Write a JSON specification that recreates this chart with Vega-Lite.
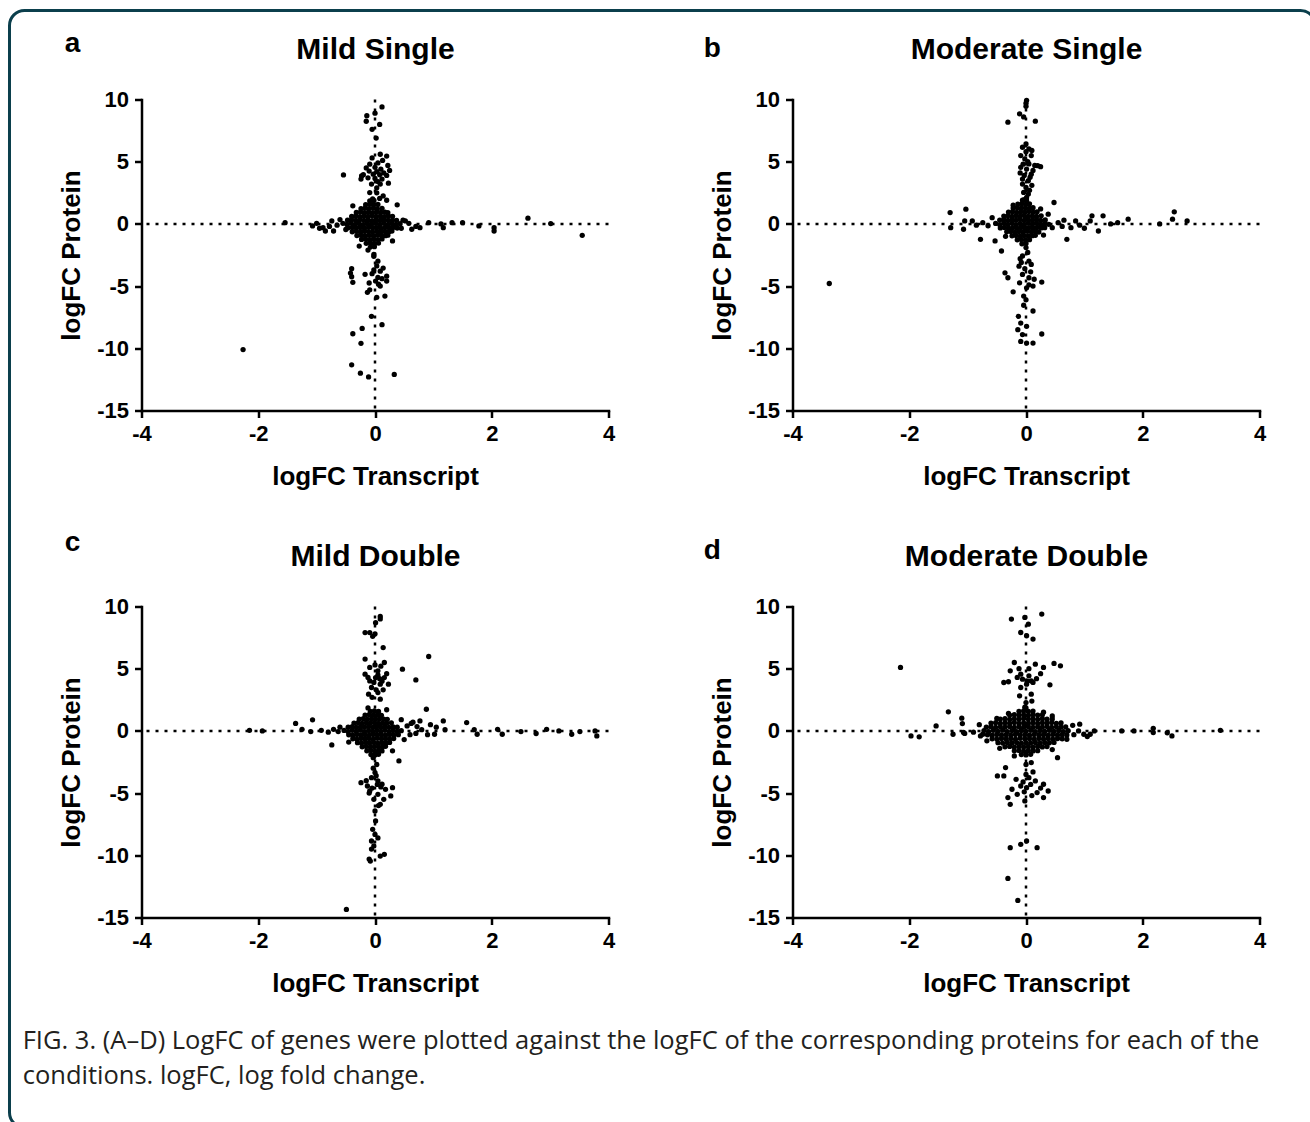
{
"$schema": "https://vega.github.io/schema/vega-lite/v6.json",
"background": "white",
"padding": {"left": 7.5, "top": 8.5, "right": 0, "bottom": 0},
"datasets": {
"a": [
{"x":-0.55,"y":0.05},{"x":-0.48,"y":-0.04},{"x":-0.41,"y":0.06},{"x":-0.34,"y":-0.05},{"x":-0.27,"y":0.03},{"x":-0.2,"y":-0.06},{"x":-0.13,"y":0.04},{"x":-0.06,"y":-0.02},{"x":0.01,"y":0.05},{"x":0.08,"y":-0.04},{"x":0.15,"y":0.06},{"x":0.22,"y":-0.05},{"x":0.29,"y":0.03},{"x":0.36,"y":-0.03},{"x":0.43,"y":0.02},
{"x":-0.47,"y":0.3},{"x":-0.4,"y":0.33},{"x":-0.33,"y":0.28},{"x":-0.26,"y":0.34},{"x":-0.19,"y":0.29},{"x":-0.12,"y":0.32},{"x":-0.05,"y":0.27},{"x":0.02,"y":0.33},{"x":0.09,"y":0.3},{"x":0.16,"y":0.35},{"x":0.23,"y":0.28},{"x":0.3,"y":0.31},{"x":0.37,"y":0.29},
{"x":-0.46,"y":-0.31},{"x":-0.39,"y":-0.28},{"x":-0.32,"y":-0.33},{"x":-0.25,"y":-0.29},{"x":-0.18,"y":-0.34},{"x":-0.11,"y":-0.27},{"x":-0.04,"y":-0.32},{"x":0.03,"y":-0.3},{"x":0.1,"y":-0.35},{"x":0.17,"y":-0.28},{"x":0.24,"y":-0.31},{"x":0.31,"y":-0.29},{"x":0.38,"y":-0.33},
{"x":-0.4,"y":0.6},{"x":-0.33,"y":0.64},{"x":-0.26,"y":0.59},{"x":-0.19,"y":0.63},{"x":-0.12,"y":0.61},{"x":-0.05,"y":0.66},{"x":0.02,"y":0.6},{"x":0.09,"y":0.63},{"x":0.16,"y":0.58},{"x":0.23,"y":0.64},{"x":0.3,"y":0.61},
{"x":-0.39,"y":-0.63},{"x":-0.32,"y":-0.6},{"x":-0.25,"y":-0.65},{"x":-0.18,"y":-0.59},{"x":-0.11,"y":-0.62},{"x":-0.04,"y":-0.66},{"x":0.03,"y":-0.6},{"x":0.1,"y":-0.64},{"x":0.17,"y":-0.61},{"x":0.24,"y":-0.63},{"x":0.29,"y":-0.58},
{"x":-0.32,"y":0.92},{"x":-0.25,"y":0.95},{"x":-0.18,"y":0.9},{"x":-0.11,"y":0.94},{"x":-0.04,"y":0.91},{"x":0.03,"y":0.96},{"x":0.1,"y":0.92},{"x":0.17,"y":0.94},{"x":0.22,"y":0.9},
{"x":-0.31,"y":-0.94},{"x":-0.24,"y":-0.91},{"x":-0.17,"y":-0.95},{"x":-0.1,"y":-0.92},{"x":-0.03,"y":-0.96},{"x":0.04,"y":-0.9},{"x":0.11,"y":-0.93},{"x":0.18,"y":-0.95},{"x":0.22,"y":-0.91},
{"x":-0.24,"y":1.22},{"x":-0.17,"y":1.26},{"x":-0.1,"y":1.23},{"x":-0.03,"y":1.27},{"x":0.04,"y":1.21},{"x":0.12,"y":1.25},
{"x":-0.23,"y":-1.25},{"x":-0.16,"y":-1.22},{"x":-0.09,"y":-1.27},{"x":-0.02,"y":-1.23},{"x":0.05,"y":-1.26},{"x":0.12,"y":-1.21},
{"x":-0.16,"y":1.54},{"x":-0.09,"y":1.57},{"x":-0.02,"y":1.53},{"x":0.05,"y":1.56},
{"x":-0.15,"y":-1.56},{"x":-0.08,"y":-1.53},{"x":-0.01,"y":-1.57},{"x":0.06,"y":-1.54},
{"x":-0.09,"y":1.84},{"x":-0.02,"y":1.87},{"x":-0.08,"y":-1.86},{"x":-0.01,"y":-1.83},
{"x":-0.38,"y":1.45},{"x":0.38,"y":1.53},{"x":0.3,"y":-1.37},{"x":-0.27,"y":-1.78},{"x":-0.6,"y":0.35},{"x":0.48,"y":0.3},{"x":-0.5,"y":-0.45},{"x":0.45,"y":-0.35},{"x":0.08,"y":2.05},{"x":-0.12,"y":-2.1},{"x":0.2,"y":1.9},{"x":-0.02,"y":-2.45},
{"x":0.12,"y":9.4},{"x":0.0,"y":8.9},{"x":-0.14,"y":8.7},{"x":-0.15,"y":8.25},{"x":0.08,"y":8.0},{"x":-0.05,"y":7.6},{"x":0.02,"y":6.9},
{"x":0.09,"y":5.6},{"x":0.2,"y":5.45},{"x":-0.05,"y":5.3},{"x":0.13,"y":5.1},{"x":-0.09,"y":4.8},{"x":0.05,"y":4.9},{"x":0.22,"y":4.7},{"x":-0.15,"y":4.5},{"x":0.0,"y":4.55},{"x":0.1,"y":4.4},{"x":0.25,"y":4.3},{"x":-0.1,"y":4.25},{"x":0.03,"y":4.2},{"x":0.15,"y":4.1},{"x":-0.03,"y":4.0},{"x":0.08,"y":3.95},{"x":0.2,"y":3.9},{"x":-0.2,"y":3.95},{"x":-0.23,"y":3.85},{"x":-0.24,"y":3.6},{"x":-0.12,"y":3.7},{"x":0.0,"y":3.65},{"x":0.12,"y":3.6},{"x":0.05,"y":3.4},{"x":-0.06,"y":3.2},{"x":0.09,"y":3.2},{"x":0.23,"y":3.27},{"x":-0.09,"y":2.52},{"x":0.03,"y":2.5},{"x":0.14,"y":2.25},{"x":-0.54,"y":3.94},{"x":0.03,"y":2.9},{"x":-0.04,"y":2.0},
{"x":-0.4,"y":-3.6},{"x":-0.42,"y":-3.95},{"x":-0.38,"y":-4.7},{"x":-0.4,"y":-4.25},{"x":-0.17,"y":-4.05},{"x":0.03,"y":-3.38},{"x":0.09,"y":-3.8},{"x":0.2,"y":-4.2},{"x":0.01,"y":-4.6},{"x":0.09,"y":-5.0},{"x":-0.09,"y":-5.3},{"x":0.03,"y":-5.9},{"x":0.17,"y":-5.8},{"x":-0.13,"y":-5.5},{"x":0.12,"y":-4.4},{"x":-0.05,"y":-4.0},{"x":0.05,"y":-4.3},{"x":-0.02,"y":-3.7},{"x":0.14,"y":-3.55},{"x":0.2,"y":-4.6},{"x":-0.1,"y":-4.75},{"x":0.06,"y":-4.85},{"x":-0.02,"y":-2.6},{"x":0.05,"y":-3.0},
{"x":-0.06,"y":-7.43},{"x":0.12,"y":-8.1},{"x":-0.22,"y":-8.4},{"x":-0.38,"y":-8.83},{"x":-0.24,"y":-9.6},{"x":-0.4,"y":-11.33},{"x":-0.25,"y":-12.0},{"x":-0.11,"y":-12.3},{"x":0.33,"y":-12.1},{"x":-2.26,"y":-10.1},
{"x":-1.54,"y":0.1},{"x":-1.07,"y":-0.16},{"x":-0.89,"y":-0.3},{"x":-0.85,"y":-0.57},{"x":-0.74,"y":0.24},{"x":-0.71,"y":-0.57},{"x":-0.65,"y":-0.1},{"x":-0.78,"y":-0.2},{"x":0.52,"y":0.24},{"x":0.63,"y":-0.43},{"x":0.77,"y":-0.3},{"x":0.92,"y":0.1},{"x":1.13,"y":0.0},{"x":1.17,"y":-0.3},{"x":1.32,"y":0.1},{"x":1.5,"y":0.1},{"x":1.78,"y":-0.16},{"x":2.04,"y":-0.3},{"x":2.04,"y":-0.57},{"x":2.62,"y":0.46},{"x":3.01,"y":0.03},{"x":3.55,"y":-0.92},{"x":0.58,"y":0.05},{"x":0.7,"y":-0.2},{"x":-1.0,"y":0.05},{"x":-0.95,"y":-0.35}
],
"b": [
{"x":-0.52,"y":0.04},{"x":-0.45,"y":-0.05},{"x":-0.38,"y":0.06},{"x":-0.31,"y":-0.03},{"x":-0.24,"y":0.05},{"x":-0.17,"y":-0.06},{"x":-0.1,"y":0.03},{"x":-0.03,"y":-0.04},{"x":0.04,"y":0.06},{"x":0.11,"y":-0.02},{"x":0.18,"y":0.05},{"x":0.25,"y":-0.05},{"x":0.32,"y":0.02},{"x":0.39,"y":-0.03},
{"x":-0.45,"y":0.31},{"x":-0.38,"y":0.34},{"x":-0.31,"y":0.29},{"x":-0.24,"y":0.33},{"x":-0.17,"y":0.3},{"x":-0.1,"y":0.35},{"x":-0.03,"y":0.29},{"x":0.04,"y":0.33},{"x":0.11,"y":0.3},{"x":0.18,"y":0.34},{"x":0.25,"y":0.28},{"x":0.33,"y":0.32},
{"x":-0.44,"y":-0.32},{"x":-0.37,"y":-0.29},{"x":-0.3,"y":-0.34},{"x":-0.23,"y":-0.3},{"x":-0.16,"y":-0.33},{"x":-0.09,"y":-0.28},{"x":-0.02,"y":-0.34},{"x":0.05,"y":-0.3},{"x":0.12,"y":-0.33},{"x":0.19,"y":-0.29},{"x":0.26,"y":-0.32},{"x":0.32,"y":-0.3},
{"x":-0.38,"y":0.63},{"x":-0.31,"y":0.66},{"x":-0.24,"y":0.61},{"x":-0.17,"y":0.65},{"x":-0.1,"y":0.62},{"x":-0.03,"y":0.67},{"x":0.04,"y":0.61},{"x":0.11,"y":0.64},{"x":0.18,"y":0.6},{"x":0.26,"y":0.65},
{"x":-0.33,"y":-0.64},{"x":-0.26,"y":-0.61},{"x":-0.19,"y":-0.66},{"x":-0.12,"y":-0.62},{"x":-0.05,"y":-0.65},{"x":0.02,"y":-0.6},{"x":0.09,"y":-0.64},{"x":0.16,"y":-0.62},{"x":0.22,"y":-0.66},
{"x":-0.3,"y":0.95},{"x":-0.23,"y":0.98},{"x":-0.16,"y":0.93},{"x":-0.09,"y":0.97},{"x":-0.02,"y":0.94},{"x":0.05,"y":0.99},{"x":0.12,"y":0.95},{"x":0.19,"y":0.97},
{"x":-0.24,"y":-0.96},{"x":-0.17,"y":-0.93},{"x":-0.1,"y":-0.98},{"x":-0.03,"y":-0.94},{"x":0.04,"y":-0.97},{"x":0.11,"y":-0.95},{"x":0.16,"y":-0.92},
{"x":-0.22,"y":1.27},{"x":-0.15,"y":1.3},{"x":-0.08,"y":1.26},{"x":-0.01,"y":1.29},{"x":0.06,"y":1.25},{"x":0.12,"y":1.3},
{"x":-0.15,"y":-1.28},{"x":-0.08,"y":-1.25},{"x":-0.01,"y":-1.3},{"x":0.06,"y":-1.27},
{"x":-0.14,"y":1.59},{"x":-0.07,"y":1.62},{"x":0.0,"y":1.58},{"x":0.06,"y":1.61},
{"x":-0.07,"y":-1.6},{"x":0.0,"y":-1.57},{"x":-0.06,"y":1.9},{"x":0.01,"y":1.88},
{"x":0.01,"y":2.13},{"x":-0.04,"y":2.53},{"x":0.04,"y":2.4},{"x":0.0,"y":2.93},{"x":-0.06,"y":3.2},{"x":0.04,"y":3.47},{"x":-0.06,"y":3.6},{"x":0.09,"y":4.0},{"x":0.01,"y":4.41},{"x":-0.09,"y":4.55},{"x":0.2,"y":4.68},{"x":0.05,"y":4.82},{"x":-0.02,"y":5.22},{"x":0.09,"y":5.49},{"x":-0.09,"y":5.49},{"x":0.05,"y":6.03},{"x":-0.06,"y":6.16},{"x":0.0,"y":6.43},{"x":0.12,"y":4.3},{"x":0.15,"y":4.7},{"x":-0.03,"y":3.9},{"x":0.07,"y":3.75},{"x":-0.1,"y":4.1},{"x":0.03,"y":5.0},{"x":0.0,"y":5.8},{"x":0.06,"y":2.7},{"x":-0.03,"y":1.95},{"x":0.1,"y":3.1},{"x":0.25,"y":4.6},{"x":0.1,"y":5.9},{"x":-0.05,"y":4.8},
{"x":0.01,"y":9.93},{"x":0.0,"y":9.45},{"x":-0.11,"y":8.85},{"x":-0.04,"y":8.6},{"x":-0.31,"y":8.18},{"x":0.16,"y":8.26},{"x":0.0,"y":9.7},
{"x":0.48,"y":1.72},{"x":0.38,"y":0.78},{"x":-0.53,"y":-1.37},{"x":-0.42,"y":-2.18},{"x":0.45,"y":-0.3},{"x":-0.58,"y":0.5},{"x":-0.22,"y":1.5},{"x":0.25,"y":1.2},{"x":0.3,"y":-0.9},{"x":-0.35,"y":-1.0},
{"x":-1.3,"y":0.91},{"x":-1.29,"y":-0.3},{"x":-1.03,"y":1.18},{"x":-1.05,"y":0.24},{"x":-1.07,"y":-0.43},{"x":-0.92,"y":0.24},{"x":-0.78,"y":-1.24},{"x":-0.74,"y":0.1},{"x":-0.65,"y":-0.15},{"x":-0.85,"y":-0.1},{"x":0.55,"y":0.1},{"x":0.62,"y":-0.2},{"x":0.7,"y":-1.24},{"x":0.77,"y":-0.3},{"x":0.85,"y":0.24},{"x":1.1,"y":0.24},{"x":1.13,"y":0.65},{"x":1.24,"y":-0.57},{"x":1.32,"y":0.65},{"x":1.45,"y":0.0},{"x":1.57,"y":0.1},{"x":1.75,"y":0.38},{"x":2.29,"y":0.0},{"x":2.54,"y":0.97},{"x":2.51,"y":0.38},{"x":2.76,"y":0.24},{"x":-3.37,"y":-4.79},{"x":0.65,"y":0.3},{"x":0.92,"y":-0.1},{"x":1.0,"y":-0.35},
{"x":0.0,"y":-1.9},{"x":-0.06,"y":-2.58},{"x":0.05,"y":-2.99},{"x":-0.08,"y":-3.1},{"x":0.09,"y":-3.26},{"x":-0.02,"y":-3.6},{"x":-0.06,"y":-4.06},{"x":0.05,"y":-4.33},{"x":0.14,"y":-4.45},{"x":-0.11,"y":-4.74},{"x":0.27,"y":-4.68},{"x":-0.36,"y":-3.93},{"x":-0.31,"y":-4.33},{"x":-0.22,"y":-5.46},{"x":0.01,"y":-5.14},{"x":0.08,"y":-3.85},{"x":-0.12,"y":-3.4},{"x":0.12,"y":-5.0},{"x":-0.04,"y":-5.8},{"x":0.03,"y":-2.3},{"x":-0.04,"y":-6.54},{"x":0.12,"y":-7.0},{"x":-0.13,"y":-7.43},{"x":-0.09,"y":-7.97},{"x":-0.14,"y":-8.5},{"x":0.01,"y":-8.23},{"x":-0.06,"y":-8.9},{"x":0.27,"y":-8.85},{"x":-0.09,"y":-9.45},{"x":0.01,"y":-9.58},{"x":0.12,"y":-9.58},{"x":0.0,"y":-6.1},{"x":0.05,"y":-4.9},{"x":-0.1,"y":-2.8}
],
"c": [
{"x":-0.53,"y":0.04},{"x":-0.46,"y":-0.05},{"x":-0.39,"y":0.05},{"x":-0.32,"y":-0.03},{"x":-0.25,"y":0.06},{"x":-0.18,"y":-0.05},{"x":-0.11,"y":0.03},{"x":-0.04,"y":-0.06},{"x":0.03,"y":0.04},{"x":0.1,"y":-0.03},{"x":0.17,"y":0.05},{"x":0.24,"y":-0.05},{"x":0.31,"y":0.03},{"x":0.38,"y":-0.04},{"x":0.45,"y":0.02},
{"x":-0.46,"y":0.3},{"x":-0.39,"y":0.34},{"x":-0.32,"y":0.29},{"x":-0.25,"y":0.33},{"x":-0.18,"y":0.3},{"x":-0.11,"y":0.35},{"x":-0.04,"y":0.28},{"x":0.03,"y":0.33},{"x":0.1,"y":0.3},{"x":0.17,"y":0.34},{"x":0.24,"y":0.29},{"x":0.31,"y":0.32},{"x":0.38,"y":0.3},
{"x":-0.45,"y":-0.31},{"x":-0.38,"y":-0.34},{"x":-0.31,"y":-0.29},{"x":-0.24,"y":-0.33},{"x":-0.17,"y":-0.3},{"x":-0.1,"y":-0.35},{"x":-0.03,"y":-0.29},{"x":0.04,"y":-0.33},{"x":0.11,"y":-0.3},{"x":0.18,"y":-0.34},{"x":0.25,"y":-0.28},{"x":0.32,"y":-0.32},{"x":0.4,"y":-0.3},
{"x":-0.36,"y":0.63},{"x":-0.29,"y":0.66},{"x":-0.22,"y":0.61},{"x":-0.15,"y":0.65},{"x":-0.08,"y":0.62},{"x":-0.01,"y":0.67},{"x":0.06,"y":0.6},{"x":0.13,"y":0.64},{"x":0.2,"y":0.62},{"x":0.28,"y":0.65},
{"x":-0.38,"y":-0.63},{"x":-0.31,"y":-0.66},{"x":-0.24,"y":-0.61},{"x":-0.17,"y":-0.65},{"x":-0.1,"y":-0.62},{"x":-0.03,"y":-0.67},{"x":0.04,"y":-0.6},{"x":0.11,"y":-0.64},{"x":0.18,"y":-0.62},{"x":0.25,"y":-0.66},{"x":0.32,"y":-0.61},
{"x":-0.27,"y":0.95},{"x":-0.2,"y":0.98},{"x":-0.13,"y":0.93},{"x":-0.06,"y":0.97},{"x":0.01,"y":0.94},{"x":0.08,"y":0.98},{"x":0.15,"y":0.95},{"x":0.21,"y":0.93},
{"x":-0.3,"y":-0.95},{"x":-0.23,"y":-0.98},{"x":-0.16,"y":-0.93},{"x":-0.09,"y":-0.97},{"x":-0.02,"y":-0.94},{"x":0.05,"y":-0.99},{"x":0.12,"y":-0.95},{"x":0.19,"y":-0.97},{"x":0.25,"y":-0.93},
{"x":-0.17,"y":1.27},{"x":-0.1,"y":1.3},{"x":-0.03,"y":1.26},{"x":0.04,"y":1.29},{"x":0.11,"y":1.25},
{"x":-0.22,"y":-1.28},{"x":-0.15,"y":-1.25},{"x":-0.08,"y":-1.3},{"x":-0.01,"y":-1.26},{"x":0.06,"y":-1.29},{"x":0.13,"y":-1.27},{"x":0.18,"y":-1.24},
{"x":-0.08,"y":1.57},{"x":-0.01,"y":1.6},{"x":0.06,"y":1.56},
{"x":-0.14,"y":-1.6},{"x":-0.07,"y":-1.57},{"x":0.0,"y":-1.62},{"x":0.07,"y":-1.58},{"x":0.12,"y":-1.61},
{"x":-0.07,"y":-1.9},{"x":0.0,"y":-1.93},{"x":0.06,"y":-1.88},{"x":-0.03,"y":-2.15},
{"x":0.41,"y":-2.41},{"x":-0.74,"y":-1.13},{"x":0.55,"y":0.4},{"x":0.6,"y":-0.3},{"x":-0.6,"y":0.3},{"x":0.5,"y":-0.7},{"x":0.65,"y":0.7},{"x":0.45,"y":0.9},{"x":-0.45,"y":-0.9},{"x":0.2,"y":1.7},{"x":-0.12,"y":1.85},{"x":0.3,"y":-1.6},
{"x":0.09,"y":9.2},{"x":0.09,"y":9.0},{"x":0.01,"y":8.7},{"x":-0.17,"y":7.9},{"x":-0.09,"y":7.9},{"x":0.0,"y":7.8},{"x":0.14,"y":6.7},{"x":-0.04,"y":7.6},
{"x":-0.17,"y":5.77},{"x":0.16,"y":5.5},{"x":-0.09,"y":5.1},{"x":0.05,"y":4.83},{"x":-0.17,"y":4.56},{"x":0.01,"y":4.29},{"x":0.16,"y":4.29},{"x":-0.09,"y":4.02},{"x":0.09,"y":3.76},{"x":0.23,"y":3.76},{"x":-0.06,"y":3.49},{"x":0.05,"y":3.08},{"x":-0.11,"y":2.95},{"x":0.09,"y":2.55},{"x":0.47,"y":4.96},{"x":0.7,"y":4.1},{"x":0.92,"y":5.98},{"x":0.0,"y":5.3},{"x":0.1,"y":5.2},{"x":-0.12,"y":4.3},{"x":0.05,"y":4.5},{"x":0.12,"y":4.0},{"x":-0.02,"y":3.9},{"x":0.2,"y":4.6},{"x":0.02,"y":3.3},{"x":0.14,"y":3.3},{"x":-0.05,"y":2.7},{"x":0.08,"y":4.2},
{"x":-2.15,"y":0.05},{"x":-1.93,"y":0.0},{"x":-1.36,"y":0.6},{"x":-1.25,"y":0.13},{"x":-1.07,"y":0.89},{"x":-1.1,"y":-0.05},{"x":-0.92,"y":0.05},{"x":-0.71,"y":0.13},{"x":-0.63,"y":-0.05},{"x":-0.8,"y":-0.1},{"x":0.62,"y":0.6},{"x":0.7,"y":-0.2},{"x":0.77,"y":0.8},{"x":0.8,"y":0.1},{"x":0.88,"y":1.74},{"x":0.9,"y":-0.3},{"x":1.02,"y":-0.27},{"x":1.05,"y":0.3},{"x":1.17,"y":0.8},{"x":1.2,"y":0.1},{"x":1.57,"y":0.67},{"x":1.7,"y":0.1},{"x":1.75,"y":-0.27},{"x":2.1,"y":0.13},{"x":2.18,"y":-0.27},{"x":2.5,"y":-0.05},{"x":2.76,"y":-0.21},{"x":2.94,"y":0.13},{"x":3.15,"y":0.0},{"x":3.37,"y":-0.27},{"x":3.51,"y":-0.05},{"x":3.77,"y":0.0},{"x":3.8,"y":-0.4},{"x":0.95,"y":0.5},{"x":0.72,"y":0.35},
{"x":0.0,"y":-3.35},{"x":-0.06,"y":-3.76},{"x":0.05,"y":-4.02},{"x":-0.24,"y":-4.16},{"x":-0.13,"y":-4.43},{"x":0.12,"y":-4.29},{"x":0.3,"y":-4.56},{"x":-0.09,"y":-4.83},{"x":0.05,"y":-5.1},{"x":0.27,"y":-5.23},{"x":-0.02,"y":-5.5},{"x":0.09,"y":-5.9},{"x":0.0,"y":-6.44},{"x":0.01,"y":-7.24},{"x":-0.04,"y":-7.91},{"x":0.0,"y":-8.32},{"x":-0.06,"y":-8.85},{"x":-0.02,"y":-9.25},{"x":0.09,"y":-10.06},{"x":0.16,"y":-9.92},{"x":-0.08,"y":-10.46},{"x":-0.49,"y":-14.35},{"x":0.02,"y":-3.6},{"x":-0.15,"y":-4.0},{"x":0.18,"y":-4.7},{"x":0.1,"y":-4.5},{"x":-0.05,"y":-4.6},{"x":0.04,"y":-4.3},{"x":0.15,"y":-5.5},{"x":-0.1,"y":-5.0},{"x":0.06,"y":-6.0},{"x":0.03,"y":-2.7},{"x":-0.03,"y":-3.0},{"x":0.05,"y":-8.6},{"x":-0.06,"y":-9.5},{"x":-0.1,"y":-10.3}
],
"d": [
{"x":-0.72,"y":0.03},{"x":-0.64,"y":-0.05},{"x":-0.56,"y":0.05},{"x":-0.48,"y":-0.03},{"x":-0.4,"y":0.06},{"x":-0.32,"y":-0.05},{"x":-0.24,"y":0.03},{"x":-0.16,"y":-0.06},{"x":-0.08,"y":0.04},{"x":0.0,"y":-0.03},{"x":0.08,"y":0.05},{"x":0.16,"y":-0.05},{"x":0.24,"y":0.03},{"x":0.32,"y":-0.04},{"x":0.4,"y":0.05},{"x":0.48,"y":-0.03},{"x":0.56,"y":0.04},{"x":0.64,"y":-0.05},{"x":0.72,"y":0.02},
{"x":-0.68,"y":0.3},{"x":-0.6,"y":0.34},{"x":-0.52,"y":0.29},{"x":-0.44,"y":0.33},{"x":-0.36,"y":0.3},{"x":-0.28,"y":0.35},{"x":-0.2,"y":0.28},{"x":-0.12,"y":0.33},{"x":-0.04,"y":0.3},{"x":0.04,"y":0.34},{"x":0.12,"y":0.29},{"x":0.2,"y":0.32},{"x":0.28,"y":0.3},{"x":0.36,"y":0.35},{"x":0.44,"y":0.29},{"x":0.52,"y":0.33},{"x":0.6,"y":0.3},{"x":0.68,"y":0.32},
{"x":-0.66,"y":-0.31},{"x":-0.58,"y":-0.34},{"x":-0.5,"y":-0.29},{"x":-0.42,"y":-0.33},{"x":-0.34,"y":-0.3},{"x":-0.26,"y":-0.35},{"x":-0.18,"y":-0.29},{"x":-0.1,"y":-0.33},{"x":-0.02,"y":-0.3},{"x":0.06,"y":-0.34},{"x":0.14,"y":-0.28},{"x":0.22,"y":-0.32},{"x":0.3,"y":-0.3},{"x":0.38,"y":-0.35},{"x":0.46,"y":-0.29},{"x":0.54,"y":-0.33},{"x":0.62,"y":-0.3},{"x":0.7,"y":-0.32},
{"x":-0.6,"y":0.63},{"x":-0.52,"y":0.66},{"x":-0.44,"y":0.61},{"x":-0.36,"y":0.65},{"x":-0.28,"y":0.62},{"x":-0.2,"y":0.67},{"x":-0.12,"y":0.6},{"x":-0.04,"y":0.64},{"x":0.04,"y":0.62},{"x":0.12,"y":0.66},{"x":0.2,"y":0.61},{"x":0.28,"y":0.65},{"x":0.36,"y":0.62},{"x":0.44,"y":0.67},{"x":0.52,"y":0.61},{"x":0.6,"y":0.64},
{"x":-0.58,"y":-0.63},{"x":-0.5,"y":-0.66},{"x":-0.42,"y":-0.61},{"x":-0.34,"y":-0.65},{"x":-0.26,"y":-0.62},{"x":-0.18,"y":-0.67},{"x":-0.1,"y":-0.6},{"x":-0.02,"y":-0.64},{"x":0.06,"y":-0.62},{"x":0.14,"y":-0.66},{"x":0.22,"y":-0.61},{"x":0.3,"y":-0.65},{"x":0.38,"y":-0.62},{"x":0.46,"y":-0.67},{"x":0.54,"y":-0.61},{"x":0.62,"y":-0.64},
{"x":-0.44,"y":0.95},{"x":-0.36,"y":0.98},{"x":-0.28,"y":0.93},{"x":-0.2,"y":0.97},{"x":-0.12,"y":0.94},{"x":-0.04,"y":0.99},{"x":0.04,"y":0.95},{"x":0.12,"y":0.97},{"x":0.2,"y":0.93},{"x":0.28,"y":0.98},{"x":0.36,"y":0.94},{"x":0.45,"y":0.96},
{"x":-0.48,"y":-0.95},{"x":-0.4,"y":-0.98},{"x":-0.32,"y":-0.93},{"x":-0.24,"y":-0.97},{"x":-0.16,"y":-0.94},{"x":-0.08,"y":-0.99},{"x":0.0,"y":-0.95},{"x":0.08,"y":-0.97},{"x":0.16,"y":-0.93},{"x":0.24,"y":-0.98},{"x":0.32,"y":-0.94},{"x":0.4,"y":-0.96},{"x":0.48,"y":-0.93},
{"x":-0.28,"y":1.27},{"x":-0.2,"y":1.3},{"x":-0.12,"y":1.26},{"x":-0.04,"y":1.29},{"x":0.04,"y":1.25},{"x":0.12,"y":1.3},{"x":0.2,"y":1.27},{"x":0.28,"y":1.29},
{"x":-0.36,"y":-1.28},{"x":-0.28,"y":-1.25},{"x":-0.2,"y":-1.3},{"x":-0.12,"y":-1.26},{"x":-0.04,"y":-1.29},{"x":0.04,"y":-1.27},{"x":0.12,"y":-1.3},{"x":0.2,"y":-1.25},{"x":0.28,"y":-1.29},{"x":0.36,"y":-1.26},
{"x":-0.12,"y":1.57},{"x":-0.04,"y":1.6},{"x":0.04,"y":1.56},{"x":0.12,"y":1.59},
{"x":-0.2,"y":-1.6},{"x":-0.12,"y":-1.57},{"x":-0.04,"y":-1.62},{"x":0.04,"y":-1.58},{"x":0.12,"y":-1.61},{"x":0.2,"y":-1.59},
{"x":-0.08,"y":-1.9},{"x":0.0,"y":-1.93},{"x":0.08,"y":-1.88},{"x":0.0,"y":1.85},
{"x":0.54,"y":-2.15},{"x":-0.2,"y":-2.01},{"x":0.09,"y":-2.55},{"x":0.7,"y":-0.67},{"x":-0.8,"y":0.5},{"x":0.8,"y":0.45},{"x":-0.78,"y":-0.4},{"x":0.82,"y":-0.3},{"x":0.3,"y":1.5},{"x":-0.3,"y":1.4},{"x":0.45,"y":-1.5},{"x":-0.45,"y":-1.4},{"x":-0.74,"y":-0.27},{"x":-0.67,"y":-0.8},{"x":0.0,"y":-2.7},{"x":0.45,"y":1.2},{"x":-0.5,"y":1.0},
{"x":0.27,"y":9.39},{"x":-0.02,"y":9.12},{"x":-0.25,"y":8.99},{"x":0.04,"y":8.58},{"x":-0.09,"y":7.91},{"x":0.12,"y":7.38},{"x":0.01,"y":7.65},
{"x":-0.2,"y":5.5},{"x":0.16,"y":5.36},{"x":0.3,"y":5.1},{"x":0.48,"y":5.42},{"x":0.59,"y":5.23},{"x":-0.27,"y":4.83},{"x":-0.09,"y":4.56},{"x":0.05,"y":4.43},{"x":-0.15,"y":4.3},{"x":-0.06,"y":4.16},{"x":0.09,"y":4.02},{"x":-0.38,"y":3.89},{"x":0.18,"y":4.2},{"x":0.41,"y":3.7},{"x":0.01,"y":3.76},{"x":-0.09,"y":3.49},{"x":0.09,"y":2.95},{"x":-0.11,"y":2.82},{"x":0.0,"y":2.28},{"x":0.02,"y":4.0},{"x":0.12,"y":3.9},{"x":-0.3,"y":3.95},{"x":0.05,"y":5.0},{"x":-0.02,"y":1.9},{"x":0.1,"y":2.4},{"x":0.25,"y":4.6},{"x":-0.12,"y":5.0},
{"x":-2.15,"y":5.1},
{"x":-1.33,"y":1.53},{"x":-1.1,"y":1.02},{"x":-1.09,"y":0.59},{"x":-1.07,"y":-0.13},{"x":-1.25,"y":-0.27},{"x":-1.54,"y":0.4},{"x":-1.97,"y":-0.4},{"x":-1.83,"y":-0.48},{"x":-1.05,"y":-0.2},{"x":-0.9,"y":-0.1},{"x":0.92,"y":0.54},{"x":0.99,"y":-0.27},{"x":1.1,"y":-0.27},{"x":1.17,"y":0.0},{"x":1.05,"y":-0.45},{"x":1.64,"y":0.0},{"x":1.85,"y":0.0},{"x":2.18,"y":0.21},{"x":2.18,"y":-0.13},{"x":2.42,"y":-0.15},{"x":2.5,"y":-0.4},{"x":3.33,"y":0.05},{"x":0.9,"y":0.0},
{"x":-0.35,"y":-2.95},{"x":-0.49,"y":-3.62},{"x":-0.38,"y":-3.62},{"x":-0.17,"y":-3.89},{"x":0.05,"y":-3.76},{"x":0.16,"y":-4.02},{"x":-0.09,"y":-4.43},{"x":0.01,"y":-4.56},{"x":-0.24,"y":-4.69},{"x":0.3,"y":-4.29},{"x":0.38,"y":-4.83},{"x":0.19,"y":-4.96},{"x":-0.31,"y":-5.36},{"x":-0.27,"y":-5.9},{"x":0.3,"y":-5.36},{"x":-0.02,"y":-5.63},{"x":0.08,"y":-4.3},{"x":-0.05,"y":-4.1},{"x":0.1,"y":-5.2},{"x":-0.15,"y":-5.1},{"x":0.0,"y":-3.5},{"x":0.25,"y":-4.6},{"x":-0.09,"y":-9.12},{"x":-0.27,"y":-9.39},{"x":0.19,"y":-9.39},{"x":0.01,"y":-8.85},{"x":-0.31,"y":-11.86},{"x":-0.14,"y":-13.63},{"x":0.12,"y":-3.3},{"x":-0.03,"y":-4.9}
]
},
"bounds": "flush",
"align": "none",
"spacing": -1028,
"vconcat": [
{
"width": 1306, "height": 1117,
"data": {"values": []},
"mark": "point",
"view": {"stroke": "#0b3f4c", "strokeWidth": 3, "cornerRadius": 15, "fill": null}
},
{
"bounds": "flush",
"spacing": 131,
"hconcat": [
{"width": 1, "height": 1, "data": {"values": []}, "mark": "point"},
{
"bounds": "flush",
"columns": 2,
"spacing": {"row": 196, "column": 184},
"title": {"text": ["FIG. 3. (A–D) LogFC of genes were plotted against the logFC of the corresponding proteins for each of the", "conditions. logFC, log fold change."], "orient": "bottom", "anchor": "start", "frame": "bounds", "baseline": "top", "font": "Open Sans", "fontSize": 25.5, "fontWeight": "normal", "color": "#231f20", "lineHeight": 35, "offset": 32, "dx": -36},
"concat": [
{
"width": 467, "height": 311,
"title": {"text": "a", "anchor": "start", "frame": "bounds", "baseline": "alphabetic", "font": "Liberation Sans", "fontSize": 28, "fontWeight": "bold", "color": "black", "offset": -45, "dx": 6},
"layer": [
{"data": {"values": [{"v": 0}]}, "mark": {"type": "rule", "strokeDash": [3, 6], "strokeWidth": 2.5, "color": "black"},
 "encoding": {"x": {"field": "v", "type": "quantitative", "scale": {"domain": [-4, 4], "nice": false, "zero": false}, "axis": {"orient": "top", "title": "Mild Single", "labels": false, "ticks": false, "domain": false, "titleFontSize": 30, "titlePadding": 35}}}},
{"data": {"values": [{"v": 0}]}, "mark": {"type": "rule", "strokeDash": [3, 6], "strokeWidth": 2.5, "color": "black"},
 "encoding": {"y": {"field": "v", "type": "quantitative", "scale": {"domain": [-15, 10], "nice": false, "zero": false}, "axis": null}}},
{"data": {"name": "a"}, "mark": {"type": "circle", "size": 28, "color": "black", "opacity": 1},
 "encoding": {
  "x": {"field": "x", "type": "quantitative", "scale": {"domain": [-4, 4], "nice": false, "zero": false}, "axis": {"title": "logFC Transcript", "values": [-4, -2, 0, 2, 4], "labelExpr": "datum.value + ''", "titlePadding": 19}},
  "y": {"field": "y", "type": "quantitative", "scale": {"domain": [-15, 10], "nice": false, "zero": false}, "axis": {"title": "logFC Protein", "values": [-15, -10, -5, 0, 5, 10], "labelExpr": "datum.value + ''", "titlePadding": 12}}}}
],
"resolve": {"axis": {"x": "independent", "y": "independent"}}
},
{
"width": 467, "height": 311,
"title": {"text": "b", "anchor": "start", "frame": "bounds", "baseline": "alphabetic", "font": "Liberation Sans", "fontSize": 28, "fontWeight": "bold", "color": "black", "offset": -50, "dx": -6},
"layer": [
{"data": {"values": [{"v": 0}]}, "mark": {"type": "rule", "strokeDash": [3, 6], "strokeWidth": 2.5, "color": "black"},
 "encoding": {"x": {"field": "v", "type": "quantitative", "scale": {"domain": [-4, 4], "nice": false, "zero": false}, "axis": {"orient": "top", "title": "Moderate Single", "labels": false, "ticks": false, "domain": false, "titleFontSize": 30, "titlePadding": 35}}}},
{"data": {"values": [{"v": 0}]}, "mark": {"type": "rule", "strokeDash": [3, 6], "strokeWidth": 2.5, "color": "black"},
 "encoding": {"y": {"field": "v", "type": "quantitative", "scale": {"domain": [-15, 10], "nice": false, "zero": false}, "axis": null}}},
{"data": {"name": "b"}, "mark": {"type": "circle", "size": 28, "color": "black", "opacity": 1},
 "encoding": {
  "x": {"field": "x", "type": "quantitative", "scale": {"domain": [-4, 4], "nice": false, "zero": false}, "axis": {"title": "logFC Transcript", "values": [-4, -2, 0, 2, 4], "labelExpr": "datum.value + ''", "titlePadding": 19}},
  "y": {"field": "y", "type": "quantitative", "scale": {"domain": [-15, 10], "nice": false, "zero": false}, "axis": {"title": "logFC Protein", "values": [-15, -10, -5, 0, 5, 10], "labelExpr": "datum.value + ''", "titlePadding": 12}}}}
],
"resolve": {"axis": {"x": "independent", "y": "independent"}}
},
{
"width": 467, "height": 311,
"title": {"text": "c", "anchor": "start", "frame": "bounds", "baseline": "alphabetic", "font": "Liberation Sans", "fontSize": 28, "fontWeight": "bold", "color": "black", "offset": -37, "dx": 6},
"layer": [
{"data": {"values": [{"v": 0}]}, "mark": {"type": "rule", "strokeDash": [3, 6], "strokeWidth": 2.5, "color": "black"},
 "encoding": {"x": {"field": "v", "type": "quantitative", "scale": {"domain": [-4, 4], "nice": false, "zero": false}, "axis": {"orient": "top", "title": "Mild Double", "labels": false, "ticks": false, "domain": false, "titleFontSize": 30, "titlePadding": 35}}}},
{"data": {"values": [{"v": 0}]}, "mark": {"type": "rule", "strokeDash": [3, 6], "strokeWidth": 2.5, "color": "black"},
 "encoding": {"y": {"field": "v", "type": "quantitative", "scale": {"domain": [-15, 10], "nice": false, "zero": false}, "axis": null}}},
{"data": {"name": "c"}, "mark": {"type": "circle", "size": 28, "color": "black", "opacity": 1},
 "encoding": {
  "x": {"field": "x", "type": "quantitative", "scale": {"domain": [-4, 4], "nice": false, "zero": false}, "axis": {"title": "logFC Transcript", "values": [-4, -2, 0, 2, 4], "labelExpr": "datum.value + ''", "titlePadding": 19}},
  "y": {"field": "y", "type": "quantitative", "scale": {"domain": [-15, 10], "nice": false, "zero": false}, "axis": {"title": "logFC Protein", "values": [-15, -10, -5, 0, 5, 10], "labelExpr": "datum.value + ''", "titlePadding": 12}}}}
],
"resolve": {"axis": {"x": "independent", "y": "independent"}}
},
{
"width": 467, "height": 311,
"title": {"text": "d", "anchor": "start", "frame": "bounds", "baseline": "alphabetic", "font": "Liberation Sans", "fontSize": 28, "fontWeight": "bold", "color": "black", "offset": -45, "dx": -6},
"layer": [
{"data": {"values": [{"v": 0}]}, "mark": {"type": "rule", "strokeDash": [3, 6], "strokeWidth": 2.5, "color": "black"},
 "encoding": {"x": {"field": "v", "type": "quantitative", "scale": {"domain": [-4, 4], "nice": false, "zero": false}, "axis": {"orient": "top", "title": "Moderate Double", "labels": false, "ticks": false, "domain": false, "titleFontSize": 30, "titlePadding": 35}}}},
{"data": {"values": [{"v": 0}]}, "mark": {"type": "rule", "strokeDash": [3, 6], "strokeWidth": 2.5, "color": "black"},
 "encoding": {"y": {"field": "v", "type": "quantitative", "scale": {"domain": [-15, 10], "nice": false, "zero": false}, "axis": null}}},
{"data": {"name": "d"}, "mark": {"type": "circle", "size": 28, "color": "black", "opacity": 1},
 "encoding": {
  "x": {"field": "x", "type": "quantitative", "scale": {"domain": [-4, 4], "nice": false, "zero": false}, "axis": {"title": "logFC Transcript", "values": [-4, -2, 0, 2, 4], "labelExpr": "datum.value + ''", "titlePadding": 19}},
  "y": {"field": "y", "type": "quantitative", "scale": {"domain": [-15, 10], "nice": false, "zero": false}, "axis": {"title": "logFC Protein", "values": [-15, -10, -5, 0, 5, 10], "labelExpr": "datum.value + ''", "titlePadding": 12}}}}
],
"resolve": {"axis": {"x": "independent", "y": "independent"}}
}
]
}
]
}
],
"config": {
"view": {"stroke": null},
"font": "Liberation Sans",
"axis": {"domainColor": "#000000", "domainWidth": 2.5, "domainCap": "square", "tickColor": "#000000", "tickWidth": 2.5, "tickSize": 7, "labelFont": "Liberation Sans", "labelFontWeight": "bold", "labelFontSize": 22, "labelColor": "#000000", "labelPadding": 6, "labelFlush": false, "labelOverlap": false, "titleFont": "Liberation Sans", "titleFontWeight": "bold", "titleFontSize": 26, "titleColor": "#000000", "grid": false}
}
}
